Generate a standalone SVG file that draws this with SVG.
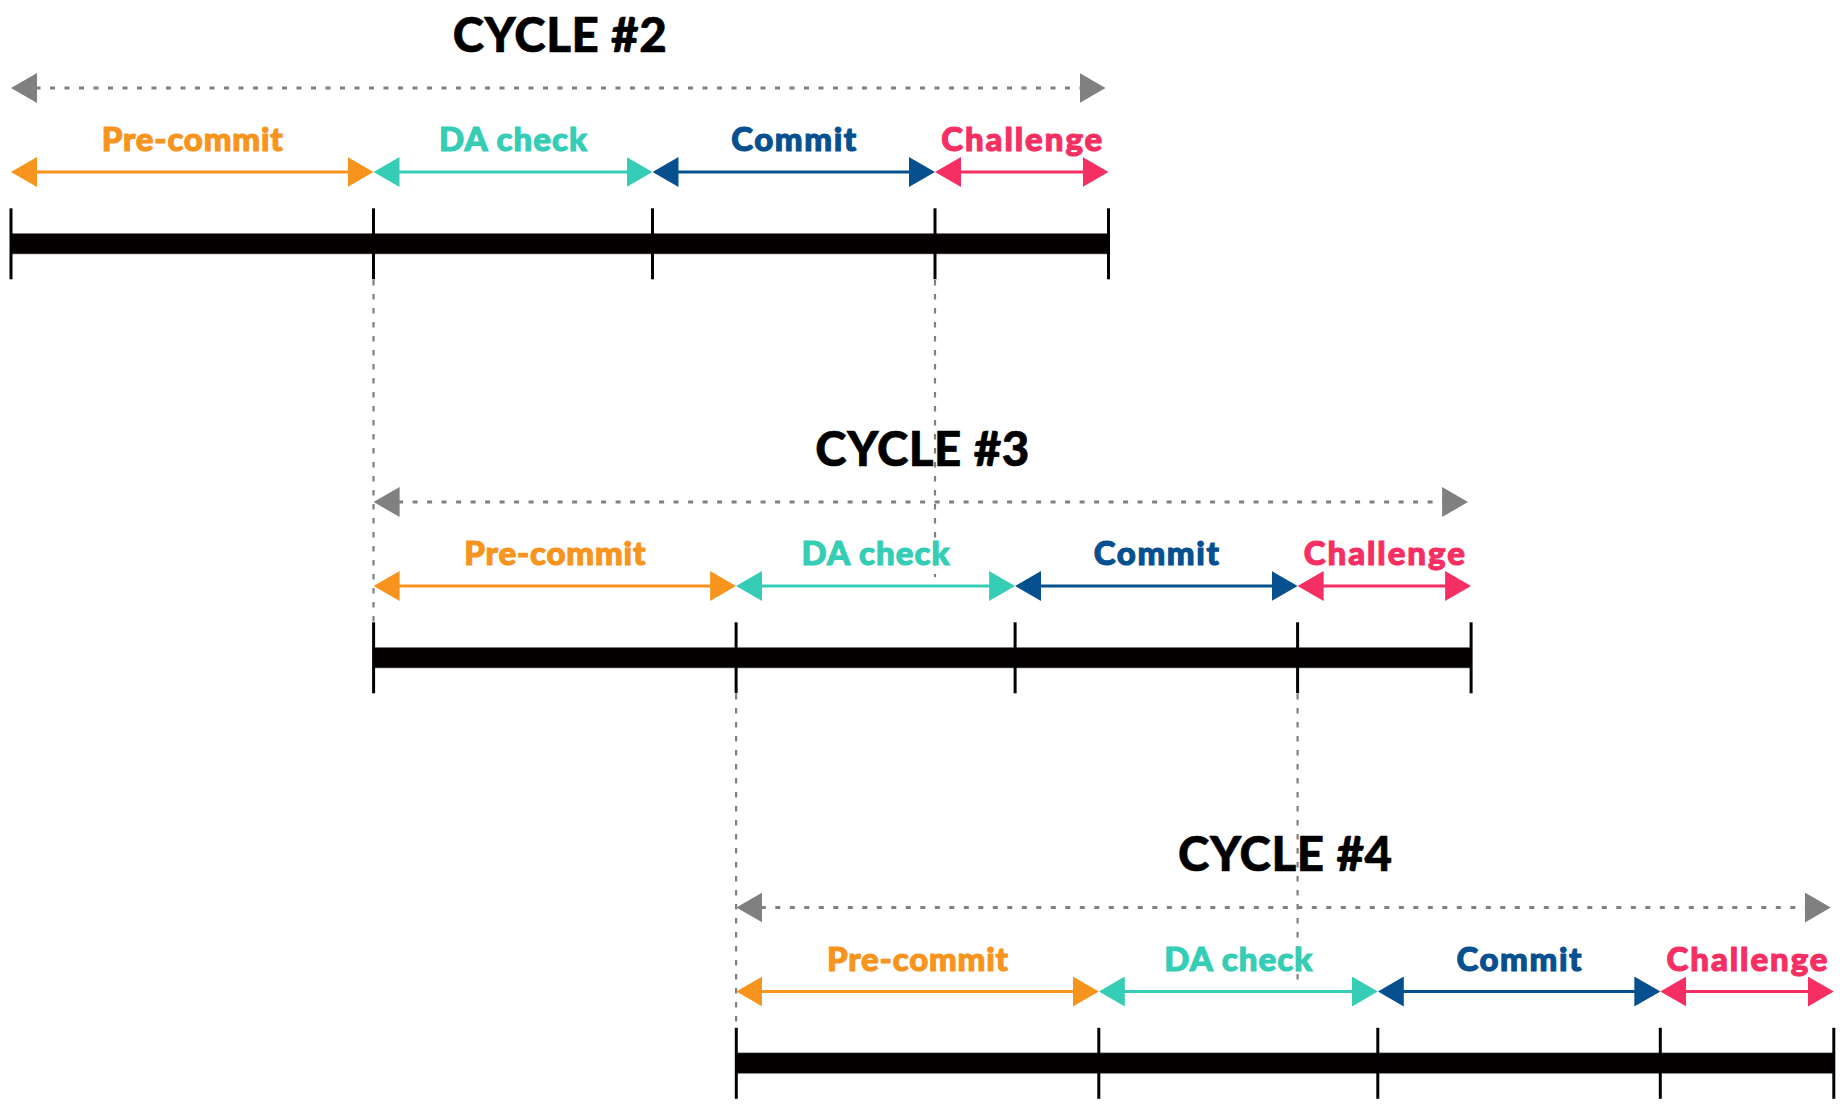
<svg xmlns="http://www.w3.org/2000/svg" width="1846" height="1119" viewBox="0 0 1846 1119">
  <style>
    .title { font-family: Lato, "Liberation Sans", sans-serif; font-weight: 900; font-size: 47.5px; fill: #000000; stroke: #000000; stroke-width: 0.6; text-anchor: middle; }
    .label { font-family: Lato, "Liberation Sans", sans-serif; font-weight: 900; font-size: 33px; stroke-width: 1.1; text-anchor: middle; }
    .span { stroke: #808080; stroke-width: 3; stroke-dasharray: 5 9.5; fill: none; }
    .ph { stroke-width: 3; fill: none; }
    .pre { stroke: #F7941D; marker-start: url(#mPre); marker-end: url(#mPre); }
    .da { stroke: #35CDB5; marker-start: url(#mDa); marker-end: url(#mDa); }
    .com { stroke: #06508F; marker-start: url(#mCom); marker-end: url(#mCom); }
    .cha { stroke: #F52F63; marker-start: url(#mCha); marker-end: url(#mCha); }
    .tpre { fill: #F7941D; stroke: #F7941D; }
    .tda { fill: #35CDB5; stroke: #35CDB5; }
    .tcom { fill: #06508F; stroke: #06508F; }
    .tcha { fill: #F52F63; stroke: #F52F63; }
    .tick { stroke: #000000; stroke-width: 3; }
    .bar { fill: #050000; stroke: #9a9a9a; stroke-width: 0.6; }
    .guide { stroke: #808080; stroke-width: 2.2; stroke-dasharray: 5.5 8.5; fill: none; }
  </style>
  <defs>
    <marker id="mGray" viewBox="0 0 26 30" refX="16" refY="15" markerWidth="26" markerHeight="30" markerUnits="userSpaceOnUse" orient="auto-start-reverse"><path d="M0,0 L26,15 L0,30 Z" fill="#808080"/></marker>
    <marker id="mPre" viewBox="0 0 26 30" refX="16" refY="15" markerWidth="26" markerHeight="30" markerUnits="userSpaceOnUse" orient="auto-start-reverse"><path d="M0,0 L26,15 L0,30 Z" fill="#F7941D"/></marker>
    <marker id="mDa" viewBox="0 0 26 30" refX="16" refY="15" markerWidth="26" markerHeight="30" markerUnits="userSpaceOnUse" orient="auto-start-reverse"><path d="M0,0 L26,15 L0,30 Z" fill="#35CDB5"/></marker>
    <marker id="mCom" viewBox="0 0 26 30" refX="16" refY="15" markerWidth="26" markerHeight="30" markerUnits="userSpaceOnUse" orient="auto-start-reverse"><path d="M0,0 L26,15 L0,30 Z" fill="#06508F"/></marker>
    <marker id="mCha" viewBox="0 0 26 30" refX="16" refY="15" markerWidth="26" markerHeight="30" markerUnits="userSpaceOnUse" orient="auto-start-reverse"><path d="M0,0 L26,15 L0,30 Z" fill="#F52F63"/></marker>
  </defs>

  <g id="connectors">
    <line class="guide" x1="373.5" y1="280" x2="373.5" y2="623"/>
    <line class="guide" x1="935" y1="280" x2="935" y2="577"/>
    <line class="guide" x1="736.1" y1="694" x2="736.1" y2="1028"/>
    <line class="guide" x1="1297.6" y1="694" x2="1297.6" y2="982"/>
  </g>

  <g id="cycle2">
    <text class="title" x="559.75" y="51.5" textLength="214" lengthAdjust="spacing">CYCLE #2</text>
    <line class="span" x1="21" y1="88" x2="1095.5" y2="88" marker-start="url(#mGray)" marker-end="url(#mGray)"/>
    <text class="label tpre" x="192.25" y="151" textLength="181" lengthAdjust="spacing">Pre-commit</text>
    <text class="label tda" x="513" y="151" textLength="148" lengthAdjust="spacing">DA check</text>
    <text class="label tcom" x="793.75" y="151" textLength="125" lengthAdjust="spacing">Commit</text>
    <text class="label tcha" x="1021.75" y="151" textLength="161" lengthAdjust="spacing">Challenge</text>
    <line class="ph pre" x1="21" y1="172" x2="363.5" y2="172"/>
    <line class="ph da" x1="383.5" y1="172" x2="642.5" y2="172"/>
    <line class="ph com" x1="662.5" y1="172" x2="925" y2="172"/>
    <line class="ph cha" x1="945" y1="172" x2="1098.5" y2="172"/>
    <rect class="bar" x="11" y="233.3" width="1097.5" height="20.7"/>
    <line class="tick" x1="11" y1="208.3" x2="11" y2="279.3"/>
    <line class="tick" x1="373.5" y1="208.3" x2="373.5" y2="279.3"/>
    <line class="tick" x1="652.5" y1="208.3" x2="652.5" y2="279.3"/>
    <line class="tick" x1="935" y1="208.3" x2="935" y2="279.3"/>
    <line class="tick" x1="1108.5" y1="208.3" x2="1108.5" y2="279.3"/>
  </g>

  <g id="cycle3" transform="translate(362.6,414)">
    <text class="title" x="559.75" y="51.5" textLength="214" lengthAdjust="spacing">CYCLE #3</text>
    <line class="span" x1="21" y1="88" x2="1095.5" y2="88" marker-start="url(#mGray)" marker-end="url(#mGray)"/>
    <text class="label tpre" x="192.25" y="151" textLength="181" lengthAdjust="spacing">Pre-commit</text>
    <text class="label tda" x="513" y="151" textLength="148" lengthAdjust="spacing">DA check</text>
    <text class="label tcom" x="793.75" y="151" textLength="125" lengthAdjust="spacing">Commit</text>
    <text class="label tcha" x="1021.75" y="151" textLength="161" lengthAdjust="spacing">Challenge</text>
    <line class="ph pre" x1="21" y1="172" x2="363.5" y2="172"/>
    <line class="ph da" x1="383.5" y1="172" x2="642.5" y2="172"/>
    <line class="ph com" x1="662.5" y1="172" x2="925" y2="172"/>
    <line class="ph cha" x1="945" y1="172" x2="1098.5" y2="172"/>
    <rect class="bar" x="11" y="233.3" width="1097.5" height="20.7"/>
    <line class="tick" x1="11" y1="208.3" x2="11" y2="279.3"/>
    <line class="tick" x1="373.5" y1="208.3" x2="373.5" y2="279.3"/>
    <line class="tick" x1="652.5" y1="208.3" x2="652.5" y2="279.3"/>
    <line class="tick" x1="935" y1="208.3" x2="935" y2="279.3"/>
    <line class="tick" x1="1108.5" y1="208.3" x2="1108.5" y2="279.3"/>
  </g>

  <g id="cycle4" transform="translate(725.3,819.5)">
    <text class="title" x="559.75" y="51.5" textLength="214" lengthAdjust="spacing">CYCLE #4</text>
    <line class="span" x1="21" y1="88" x2="1095.5" y2="88" marker-start="url(#mGray)" marker-end="url(#mGray)"/>
    <text class="label tpre" x="192.25" y="151" textLength="181" lengthAdjust="spacing">Pre-commit</text>
    <text class="label tda" x="513" y="151" textLength="148" lengthAdjust="spacing">DA check</text>
    <text class="label tcom" x="793.75" y="151" textLength="125" lengthAdjust="spacing">Commit</text>
    <text class="label tcha" x="1021.75" y="151" textLength="161" lengthAdjust="spacing">Challenge</text>
    <line class="ph pre" x1="21" y1="172" x2="363.5" y2="172"/>
    <line class="ph da" x1="383.5" y1="172" x2="642.5" y2="172"/>
    <line class="ph com" x1="662.5" y1="172" x2="925" y2="172"/>
    <line class="ph cha" x1="945" y1="172" x2="1098.5" y2="172"/>
    <rect class="bar" x="11" y="233.3" width="1097.5" height="20.7"/>
    <line class="tick" x1="11" y1="208.3" x2="11" y2="279.3"/>
    <line class="tick" x1="373.5" y1="208.3" x2="373.5" y2="279.3"/>
    <line class="tick" x1="652.5" y1="208.3" x2="652.5" y2="279.3"/>
    <line class="tick" x1="935" y1="208.3" x2="935" y2="279.3"/>
    <line class="tick" x1="1108.5" y1="208.3" x2="1108.5" y2="279.3"/>
  </g>
</svg>
